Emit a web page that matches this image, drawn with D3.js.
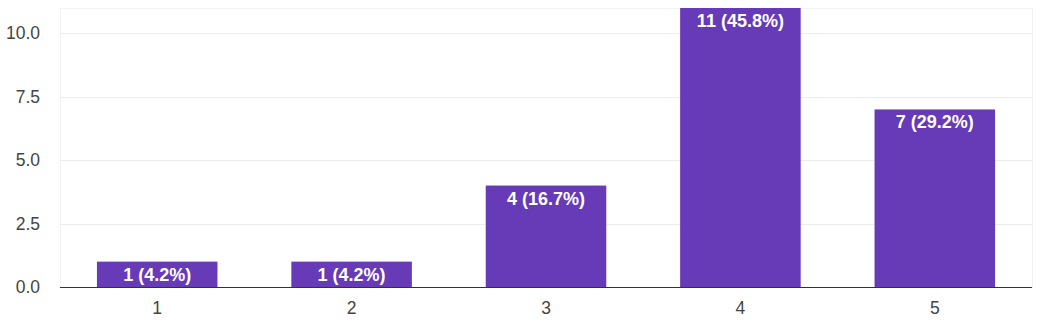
<!DOCTYPE html>
<html>
<head>
<meta charset="utf-8">
<script src="https://cdn.jsdelivr.net/npm/d3@7"></script>
<style>
  body { margin: 0; background: #fff; }
  svg text { font-family: "Liberation Sans", Arial, sans-serif; }
  .tick_lbl { font-size: 17.5px; fill: #444; }
  .bar_lbl { font-size: 18px; fill: #fff; font-weight: bold; }
</style>
</head>
<body>
<div id="chart"></div>
<script>
// rating responses
var categories = ["1", "2", "3", "4", "5"];
var counts = [1, 1, 4, 11, 7];
var percents = ["4.2%", "4.2%", "16.7%", "45.8%", "29.2%"];
var yTicks = [0, 2.5, 5, 7.5, 10];

var width = 1051, height = 327;
var margin = {top: 8, right: 19, bottom: 40, left: 60};

var svg = d3.select("#chart")
    .append("svg")
    .attr("width", width)
    .attr("height", height);

var x = d3.scaleBand()
    .domain(categories)
    .range([margin.left, width - margin.right])
    .paddingInner(0.38)
    .paddingOuter(0.19);

var y = d3.scaleLinear()
    .domain([0, 11])
    .range([height - margin.bottom, margin.top]);

// plot frame (faint)
svg.append("rect")
    .attr("x", margin.left + 0.5)
    .attr("y", margin.top + 0.5)
    .attr("width", width - margin.right - margin.left)
    .attr("height", y(0) - margin.top)
    .attr("fill", "none")
    .attr("stroke", "#f2f2f2");

// gridlines
svg.selectAll(".grid")
    .data(yTicks.filter(function(d) { return d > 0; }))
    .enter()
    .append("line")
    .attr("class", "grid")
    .attr("x1", margin.left)
    .attr("x2", width - margin.right)
    .attr("y1", function(d) { return Math.round(y(d)) + 0.5; })
    .attr("y2", function(d) { return Math.round(y(d)) + 0.5; })
    .attr("stroke", "#ebebeb");

// y labels
svg.selectAll(".ylbl")
    .data(yTicks)
    .enter()
    .append("text")
    .attr("class", "tick_lbl")
    .attr("x", 40)
    .attr("y", function(d) { return y(d) + 6; })
    .attr("text-anchor", "end")
    .text(function(d) { return d3.format(".1f")(d); });

// bars
var bar = svg.selectAll(".bar")
    .data(counts)
    .enter()
    .append("g")
    .attr("class", "bar");

bar.append("rect")
    .attr("x", function(d, i) { return x(categories[i]); })
    .attr("y", function(d) { return y(d); })
    .attr("width", x.bandwidth())
    .attr("height", function(d) { return y(0) - y(d); })
    .attr("fill", "#673ab7");

bar.append("text")
    .attr("class", "bar_lbl")
    .attr("x", function(d, i) { return x(categories[i]) + x.bandwidth() / 2; })
    .attr("y", function(d) { return y(d) + 19; })
    .attr("text-anchor", "middle")
    .text(function(d, i) { return d + " (" + percents[i] + ")"; });

// baseline
svg.append("line")
    .attr("x1", margin.left)
    .attr("x2", width - margin.right)
    .attr("y1", Math.round(y(0)) + 0.5)
    .attr("y2", Math.round(y(0)) + 0.5)
    .attr("stroke", "#333");

// x labels
svg.selectAll(".xlbl")
    .data(categories)
    .enter()
    .append("text")
    .attr("class", "tick_lbl")
    .attr("x", function(d) { return x(d) + x.bandwidth() / 2; })
    .attr("y", 314)
    .attr("text-anchor", "middle")
    .text(function(d) { return d; });
</script>
</body>
</html>
